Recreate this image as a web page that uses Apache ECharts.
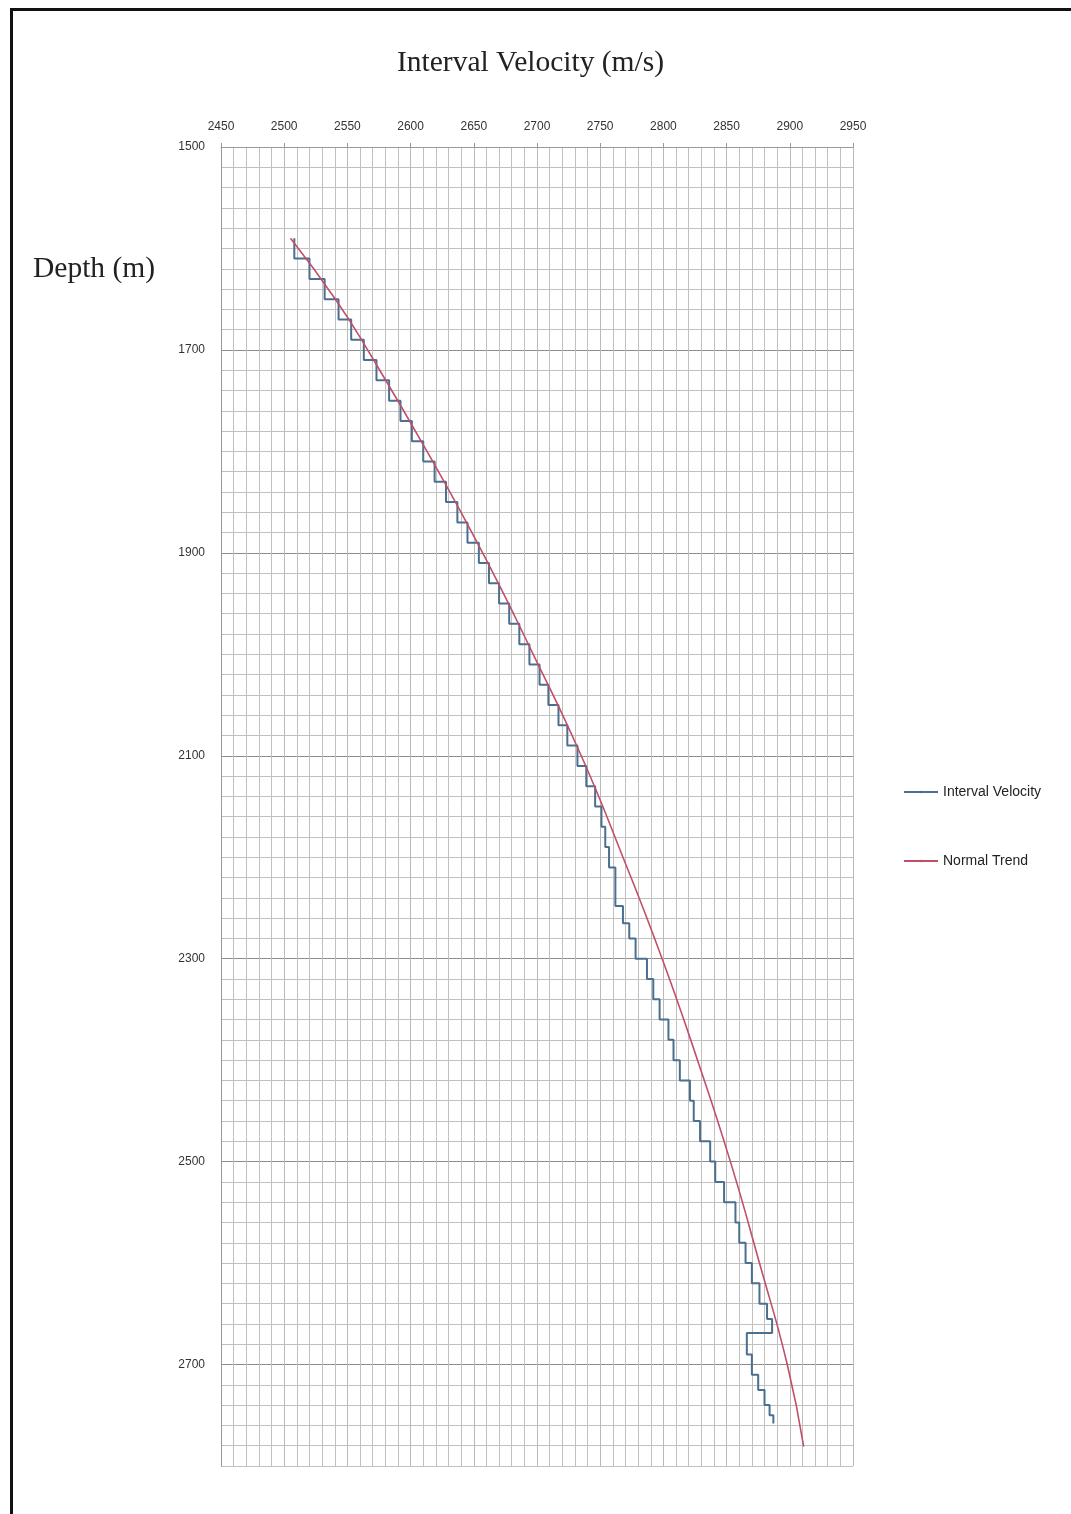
<!DOCTYPE html>
<html>
<head>
<meta charset="utf-8">
<script src="https://cdn.jsdelivr.net/npm/echarts@6/dist/echarts.min.js"></script>
<style>
html,body{margin:0;padding:0;background:#fff;}
#frame{position:absolute;left:10px;top:8px;width:1100px;height:1560px;border-top:3px solid #111;border-left:3px solid #111;box-sizing:border-box;pointer-events:none;}
#chart{position:absolute;left:0;top:0;width:1071px;height:1514px;}
</style>
</head>
<body>
<div id="chart"></div>
<div id="frame"></div>
<script>
// Normal trend (depth m, velocity m/s)
var trendDepth = [1590,1650,1700,1800,1900,2000,2100,2200,2300,2400,2500,2600,2700,2781];
var trendVel = [2505,2540.5,2566,2613,2657,2697,2735,2768,2799,2827,2853,2876,2898,2911];

// Interval velocity (stepped)
var ivDepth = [1590,1610,1630,1650,1670,1690,1710,1730,1750,1770,1790,1810,1830,1850,1870,1890,1910,1930,1950,1970,1990,2010,2030,2050,2070,2090,2110,2130,2150,2170,2190,2210,2248,2265,2280,2300,2320,2340,2360,2380,2400,2420,2440,2460,2480,2500,2520,2540,2560,2580,2600,2620,2640,2655,2669,2690,2710,2725,2740,2750,2758];
var ivVel = [2508,2520,2532,2543,2553,2563,2573,2583,2592,2601,2610,2619,2628,2637,2645,2654,2662,2670,2678,2686,2694,2702,2709,2717,2724,2732,2739,2746,2751,2754,2757,2762,2768,2773,2778,2787,2792,2797,2804,2808,2813,2821,2824,2829,2837,2841,2848,2857,2860,2865,2870,2876,2882,2886,2866,2870,2875,2880,2884,2887,2887];

var depthLabels = [1500,1700,1900,2100,2300,2500,2700];
var xTitle = 'Interval Velocity (m/s)';
var yTitle = 'Depth (m)';

function pairs(xs, ys){ return xs.map(function(v,i){ return [v, ys[i]]; }); }

var chart = echarts.init(document.getElementById('chart'), null, {renderer:'canvas'});
chart.setOption({
  animation:false,
  backgroundColor:'#fff',
  graphic:[
    {type:'text', left:397, top:48, style:{text:xTitle, font:'29.5px "Liberation Serif", "Times New Roman", serif', fill:'#222'}},
    {type:'text', left:33, top:254, style:{text:yTitle, font:'29.5px "Liberation Serif", "Times New Roman", serif', fill:'#222'}}
  ],
  legend:{
    orient:'vertical', left:898, top:780, itemWidth:34, itemHeight:3, itemGap:55,
    textStyle:{fontFamily:'"Liberation Sans", Arial, sans-serif', fontSize:14, color:'#222'},
    data:['Interval Velocity','Normal Trend']
  },
  grid:{left:221, top:147, right:218, bottom:48, containLabel:false},
  xAxis:{
    type:'value', position:'top', min:2450, max:2950, interval:50,
    axisLine:{show:true, lineStyle:{color:'#999', width:1}},
    axisTick:{show:true, length:4, lineStyle:{color:'#999'}},
    axisLabel:{fontFamily:'"Liberation Sans", Arial, sans-serif', fontSize:12, color:'#333', margin:14,
      formatter:function(v){ return String(v); }},
    splitLine:{show:true, lineStyle:{color:'#bababa', width:1}},
    minorTick:{show:false, splitNumber:5},
    minorSplitLine:{show:true, lineStyle:{color:'#c0c0c0', width:1}}
  },
  yAxis:{
    type:'value', inverse:true, min:1500, max:2800, interval:100,
    axisLine:{show:true, lineStyle:{color:'#999', width:1}},
    axisTick:{show:false},
    axisLabel:{fontFamily:'"Liberation Sans", Arial, sans-serif', fontSize:12, color:'#333', margin:16,
      formatter:function(v){ return depthLabels.indexOf(v) >= 0 ? String(v) : ''; }},
    splitLine:{show:true, lineStyle:{color:['#8c8c8c','#c0c0c0'], width:1}},
    minorTick:{show:false, splitNumber:5},
    minorSplitLine:{show:true, lineStyle:{color:'#c0c0c0', width:1}}
  },
  series:[
    {name:'Interval Velocity', type:'line', step:'start', symbol:'none',
      data:pairs(ivVel, ivDepth), lineStyle:{color:'#4b6f90', width:2}, itemStyle:{color:'#4b6f90'}, z:2},
    {name:'Normal Trend', type:'line', smooth:0.5, symbol:'none',
      data:pairs(trendVel, trendDepth), lineStyle:{color:'#c05068', width:1.6}, itemStyle:{color:'#c05068'}, z:3}
  ]
});
</script>
</body>
</html>
